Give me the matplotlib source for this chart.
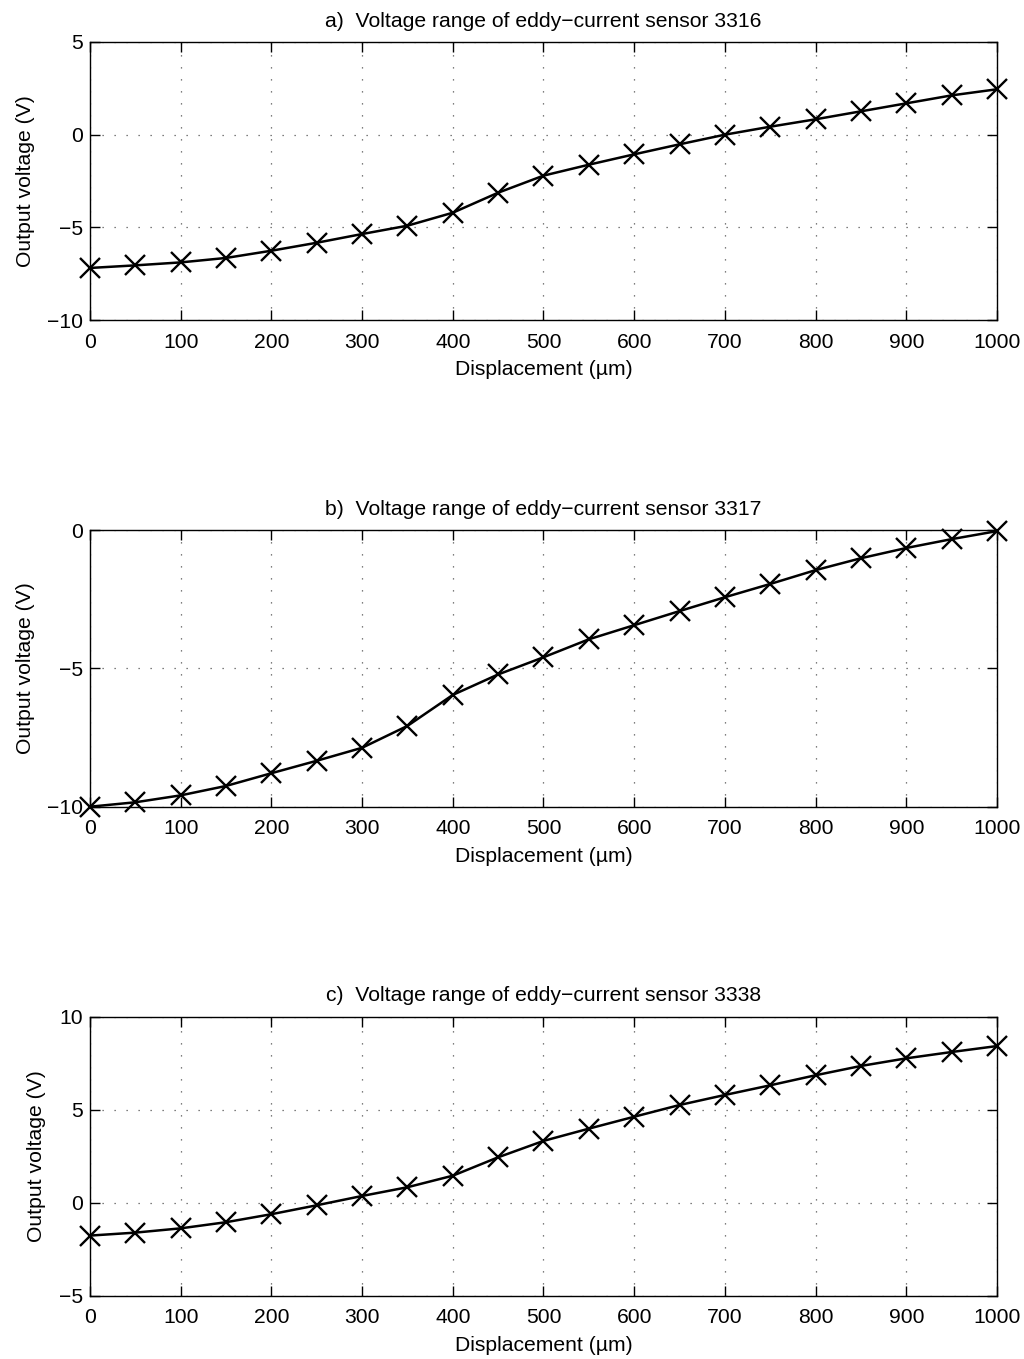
import matplotlib
matplotlib.use("Agg")
import matplotlib.pyplot as plt

plt.rcParams['font.family'] = ['Liberation Sans', 'DejaVu Sans']
plt.rcParams['font.size'] = 15.2
plt.rcParams['axes.unicode_minus'] = True

displacement = [0, 50, 100, 150, 200, 250, 300, 350, 400, 450, 500,
                550, 600, 650, 700, 750, 800, 850, 900, 950, 1000]

volt_3316 = [-7.19, -7.05, -6.89, -6.65, -6.26, -5.83, -5.36, -4.91, -4.21, -3.13, -2.21,
             -1.62, -1.06, -0.52, 0.0, 0.43, 0.83, 1.26, 1.69, 2.12, 2.45]
volt_3317 = [-10.0, -9.84, -9.59, -9.25, -8.79, -8.34, -7.87, -7.08, -5.96, -5.22, -4.60,
             -3.95, -3.44, -2.93, -2.43, -1.95, -1.45, -1.02, -0.65, -0.33, -0.04]
volt_3338 = [-1.77, -1.61, -1.38, -1.05, -0.62, -0.14, 0.36, 0.83, 1.45, 2.44, 3.32,
             3.98, 4.62, 5.25, 5.79, 6.31, 6.85, 7.35, 7.76, 8.10, 8.42]

titles = ["a)  Voltage range of eddy\u2212current sensor 3316",
          "b)  Voltage range of eddy\u2212current sensor 3317",
          "c)  Voltage range of eddy\u2212current sensor 3338"]
ylims = [(-10, 5), (-10, 0), (-5, 10)]
yticks = [[-10, -5, 0, 5], [-10, -5, 0], [-5, 0, 5, 10]]
xticks = [0, 100, 200, 300, 400, 500, 600, 700, 800, 900, 1000]

fig = plt.figure(figsize=(10.24, 13.59), dpi=100)
positions = [[0.0879, 0.7645, 0.8857, 0.2046],
             [0.0879, 0.4064, 0.8857, 0.2036],
             [0.0879, 0.0466, 0.8857, 0.2053]]

for pos, title, vals, ylim, yt in zip(positions, titles,
                                       [volt_3316, volt_3317, volt_3338], ylims, yticks):
    ax = fig.add_axes(pos)
    ax.plot(displacement, vals, color='black', linewidth=1.8,
            marker='x', markersize=15, markeredgewidth=1.7, clip_on=False, zorder=3)
    ax.set_xlim(0, 1000)
    ax.set_ylim(*ylim)
    ax.set_xticks(xticks)
    ax.set_yticks(yt)
    ax.grid(True, linestyle=(0, (1, 8.6)), color='#555555', linewidth=0.9)
    ax.tick_params(axis='x', direction='in', top=True, length=7, width=1, pad=9)
    ax.tick_params(axis='y', direction='in', right=True, length=7, width=1, pad=5)
    for sp in ax.spines.values():
        sp.set_linewidth(1.0)
    ax.set_title(title, fontsize=15.2, pad=11)
    ax.set_xlabel("Displacement (\u00b5m)", labelpad=6)
    ax.set_ylabel("Output voltage (V)", labelpad=9)

fig.savefig("out.png", dpi=100)
